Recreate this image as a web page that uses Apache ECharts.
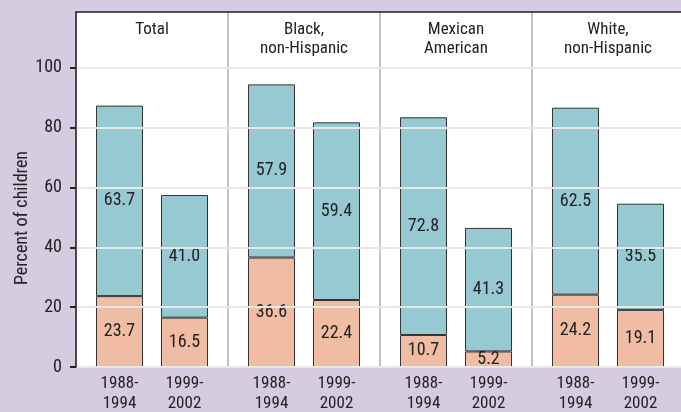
<!DOCTYPE html>
<html>
<head>
<meta charset="utf-8">
<script src="https://cdn.jsdelivr.net/npm/echarts@6/dist/echarts.min.js"></script>
<style>
html,body{margin:0;padding:0;background:#d4cce1;}
#c{width:681px;height:412px;}
</style>
</head>
<body>
<div id="c"></div>
<script>
var groups = ['Total', 'Black,\nnon-Hispanic', 'Mexican\nAmerican', 'White,\nnon-Hispanic'];
var periods = ['1988-\n1994', '1999-\n2002'];
var lower1988 = [23.7, 36.6, 10.7, 24.2];
var upper1988 = [63.7, 57.9, 72.8, 62.5];
var lower1999 = [16.5, 22.4, 5.2, 19.1];
var upper1999 = [41.0, 59.4, 41.3, 35.5];
var yTicks = [0, 20, 40, 60, 80, 100];

var FONT = "'Liberation Sans Narrow', 'Roboto Condensed', 'Arial Narrow', 'Liberation Sans', sans-serif";
var TEAL = '#97c9d3', SALMON = '#f0bca3';
var INK = '#222';

var chart = echarts.init(document.getElementById('c'));

var p0 = periods[0].split('\n'), p1 = periods[1].split('\n');
function bottomLabel() {
  return '{a|' + p0[0] + '}{a|' + p1[0] + '}\n{a|' + p0[1] + '}{a|' + p1[1] + '}';
}

function barSeries(name, data, stack, color) {
  return {
    name: name,
    type: 'bar',
    stack: stack,
    data: data,
    barWidth: 47,
    barGap: '38.3%',
    itemStyle: { color: color, borderColor: '#333', borderWidth: 1 },
    label: {
      show: true, position: 'inside', color: INK,
      fontFamily: FONT, fontSize: 18,
      formatter: function (p) { return p.value.toFixed(1); }
    }
  };
}

chart.setOption({
  backgroundColor: '#d4cce1',
  animation: false,
  grid: {
    left: 76, top: 12, width: 608, bottom: 45,
    outerBoundsMode: 'none', containLabel: false,
    backgroundColor: '#fff', show: true, borderWidth: 0
  },
  xAxis: [{
    type: 'category',
    data: groups,
    position: 'bottom',
    axisLine: { show: true, lineStyle: { color: INK, width: 1.5 } },
    axisTick: { show: false },
    splitLine: { show: true, interval: 0, lineStyle: { color: '#c8c3bb', width: 2 } },
    axisLabel: {
      interval: 0, margin: 7, color: INK, fontFamily: FONT, fontSize: 17,
      lineHeight: 20,
      formatter: bottomLabel,
      rich: { a: { width: 65, align: 'center', fontFamily: FONT, fontSize: 17, lineHeight: 20, color: INK } }
    }
  }, {
    type: 'category',
    data: groups,
    position: 'top',
    axisLine: { show: true, lineStyle: { color: INK, width: 1.5 } },
    axisTick: { show: false },
    axisLabel: {
      inside: true, interval: 0, margin: 8, color: INK, fontFamily: FONT, fontSize: 17,
      lineHeight: 19, verticalAlign: 'top'
    }
  }],
  yAxis: {
    type: 'value',
    min: 0, max: 118.7, interval: 20,
    z: 3,
    axisLine: { show: true, lineStyle: { color: INK, width: 1.5 } },
    axisTick: { show: true, length: 6, lineStyle: { color: INK, width: 2 }, customValues: yTicks },
    axisLabel: { color: INK, fontFamily: FONT, fontSize: 18, margin: 14, customValues: yTicks },
    splitLine: { show: true, lineStyle: { color: '#e8e8e8', width: 2 } }
  },
  graphic: [{
    type: 'text',
    x: 22, y: 218,
    rotation: Math.PI / 2,
    style: {
      text: 'Percent of children', fill: INK, font: '18px ' + FONT,
      align: 'center', verticalAlign: 'middle'
    }
  }],
  series: [
    barSeries('1988-1994 lower', lower1988, 'a', SALMON),
    barSeries('1988-1994 upper', upper1988, 'a', TEAL),
    barSeries('1999-2002 lower', lower1999, 'b', SALMON),
    barSeries('1999-2002 upper', upper1999, 'b', TEAL)
  ]
});
</script>
</body>
</html>
